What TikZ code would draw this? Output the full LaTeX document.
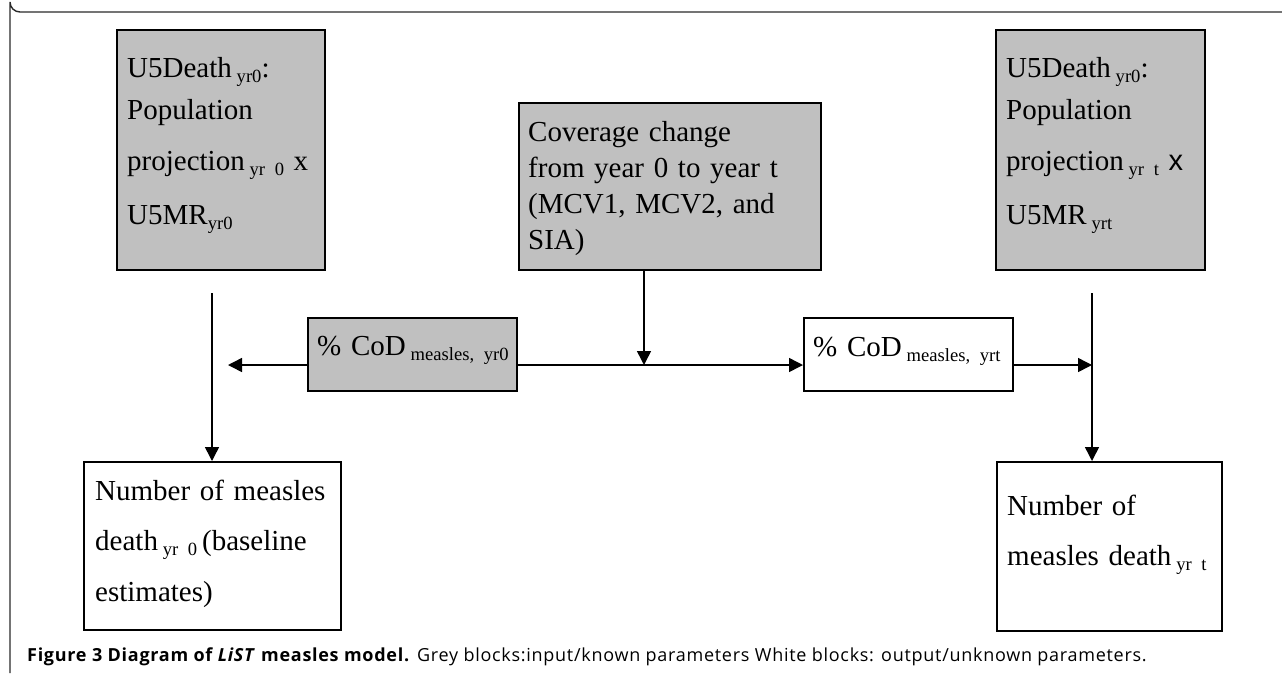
\documentclass[tikz,border=0pt]{standalone}
\usepackage{fontspec}
\setmainfont{Liberation Serif}
\newfontfamily\capfont[LetterSpace=4]{Open Sans}
\newfontfamily\arialfont{Liberation Sans}
\usetikzlibrary{arrows.meta}
\newcommand\lowsub[1]{\raisebox{-5pt}{\fontsize{18.6}{19}\selectfont #1}}
\definecolor{boxgrey}{HTML}{C0C0C0}
\definecolor{framegrey}{HTML}{2A2A2A}
\begin{document}
\begin{tikzpicture}[x=1pt,y=-1pt,
  blk/.style={draw=black,line width=1.5pt,inner sep=0pt,anchor=north west},
  inbox/.style={blk,fill=boxgrey},
  outbox/.style={blk,fill=white},
  txt/.style={anchor=base west,inner sep=0pt,align=left,font=\fontsize{29}{49}\selectfont},
  conn/.style={line width=1.5pt,-{Triangle[length=14pt,width=14pt]}},
]
\useasboundingbox (0,0) rectangle (1282,673);
% frame
\draw[framegrey,line width=1.4pt] (1282,12) -- (20,12) arc[start angle=90,end angle=180,radius=10] -- (10,673);

% boxes
\node[inbox,minimum width=208pt,minimum height=240pt] (u0) at (116,29) {};
\node[inbox,minimum width=209pt,minimum height=240pt] (ut) at (995,29) {};
\node[inbox,minimum width=302pt,minimum height=167pt] (cov) at (518,102) {};
\node[inbox,minimum width=209pt,minimum height=73pt] (cod0) at (307,317) {};
\node[outbox,minimum width=209pt,minimum height=73pt] (codt) at (803,317) {};
\node[outbox,minimum width=257pt,minimum height=168pt] (n0) at (83,461) {};
\node[outbox,minimum width=225pt,minimum height=169pt] (nt) at (996,461) {};

% texts
\node[txt,text width=200pt] (tu0) at (127,77) {U5Death\,\lowsub{yr0}:\\[-7pt]Population\\[2pt]projection\,\lowsub{yr 0} x\\[5pt]U5MR\lowsub{yr0}};
\node[txt,text width=200pt] (tut) at (1006,77) {U5Death\,\lowsub{yr0}:\\[-7pt]Population\\[2pt]projection\,\lowsub{yr t} {\arialfont x}\\[5pt]U5MR\,\lowsub{yrt}};
\node[txt,text width=290pt,font=\fontsize{29}{36}\selectfont] (tcov) at (528,141) {Coverage change\\from year 0 to year t\\(MCV1, MCV2, and\\SIA)};
\node[txt,text width=200pt] (tcod0) at (317,355) {\% CoD\,\lowsub{measles, yr0}};
\node[txt,text width=200pt] (tcodt) at (813,356) {\% CoD\,\lowsub{measles, yrt}};
\node[txt,text width=250pt,font=\fontsize{29}{50.5}\selectfont] (tn0) at (95,500) {Number of measles\\death\,\lowsub{yr 0}\,(baseline\\estimates)};
\node[txt,text width=215pt,font=\fontsize{29}{50}\selectfont] (tnt) at (1007,515) {Number of\\measles death\,\lowsub{yr t}};

% connector ends
\coordinate (lstart) at (212,293);
\coordinate (rstart) at (1092,293);
\coordinate (ltip) at (228,365);
\coordinate (rjoin) at (1092,365);
\coordinate (cjoin) at (644,365);

% connectors
\draw[conn] (lstart) -- (lstart |- n0.north);
\draw[conn] (rstart) -- (rstart |- nt.north);
\draw[conn] (cod0.west |- ltip) -- (ltip);
\draw[conn] (cod0.east |- cjoin) -- (codt.west |- cjoin);
\draw[conn] (codt.east |- rjoin) -- (rjoin);
\draw[conn] (cov.south -| cjoin) -- (cjoin);

% caption
\node[anchor=base west,inner sep=0pt,font=\capfont\fontsize{18}{20}\selectfont] (cap) at (27,661)
 {\textbf{Figure 3 Diagram of \textit{LiST} measles model.} Grey blocks:input/known parameters White blocks: output/unknown parameters.};
\end{tikzpicture}
\end{document}
